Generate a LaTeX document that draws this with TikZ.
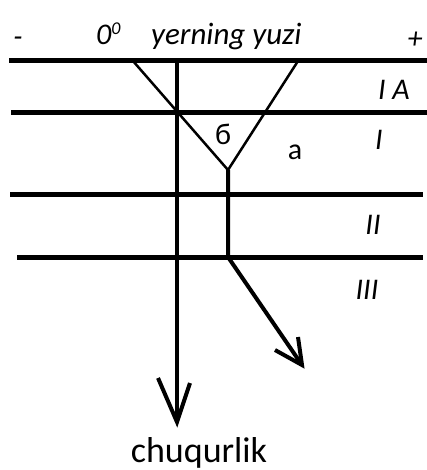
\documentclass[tikz,border=0pt]{standalone}
\usepackage{fontspec}
\setmainfont{Carlito}
\begin{document}
\begin{tikzpicture}[x=1pt,y=-1pt,
  layer/.style={line width=5pt},
  shaft/.style={line width=4pt},
  branch/.style={line width=2.5pt},
  lbl/.style={font=\fontsize{30}{32}\selectfont\itshape, inner sep=0pt},
  ulbl/.style={font=\fontsize{30}{32}\selectfont, inner sep=0pt}]
\useasboundingbox (0,0) rectangle (427,470);
% layer boundaries
\coordinate (h1l) at (9,61);   \coordinate (h1r) at (427,61);
\coordinate (h2l) at (11,113); \coordinate (h2r) at (427,113);
\coordinate (h3l) at (10,194); \coordinate (h3r) at (423,194);
\coordinate (h4l) at (17,257); \coordinate (h4r) at (423,257);
\draw[layer] (h1l) -- (h1r);
\draw[layer] (h2l) -- (h2r);
\draw[layer] (h3l) -- (h3r);
\draw[layer] (h4l) -- (h4r);
% main vertical arrow
\coordinate (m0) at (177,61); \coordinate (mt) at (177,422);
\coordinate (ma1) at (158,378); \coordinate (ma2) at (190,383);
\draw[shaft] (m0) -- (mt);
\draw[shaft,line join=miter] (ma1) -- (mt) -- (ma2);
% V shape
\coordinate (vl) at (133,61); \coordinate (vb) at (228,170); \coordinate (vr) at (298,61);
\draw[branch] (vl) -- (vb) -- (vr);
% second path
\coordinate (s1) at (228,257); \coordinate (st) at (302,365);
\coordinate (sa1) at (275,350); \coordinate (sa2) at (298,337);
\draw[shaft] (vb) -- (s1) -- (st);
\draw[shaft,line join=miter] (sa1) -- (st) -- (sa2);
% labels
\node[lbl] (minus) at (18,42) {-};
\node[lbl,anchor=base west] (zero) at (96,45) {0\raisebox{10pt}{\fontsize{18}{18}\selectfont 0}};
\node[lbl,anchor=base west,font=\fontsize{31}{33}\selectfont\itshape] (surf) at (151,45) {yerning yuzi};
\node[lbl] (plus) at (415,40) {+};
\node[lbl,anchor=base] (IA) at (394,100) {I A};
\node[ulbl] (be) at (223,134) {б};
\node[ulbl] (a) at (295,152) {a};
\node[lbl] (I) at (379,140) {I};
\node[lbl] (II) at (373,225) {II};
\node[lbl] (III) at (367,290) {III};
\node[ulbl,font=\fontsize{36}{38}\selectfont,anchor=base] (depth) at (199,462) {chuqurlik};
\end{tikzpicture}
\end{document}
